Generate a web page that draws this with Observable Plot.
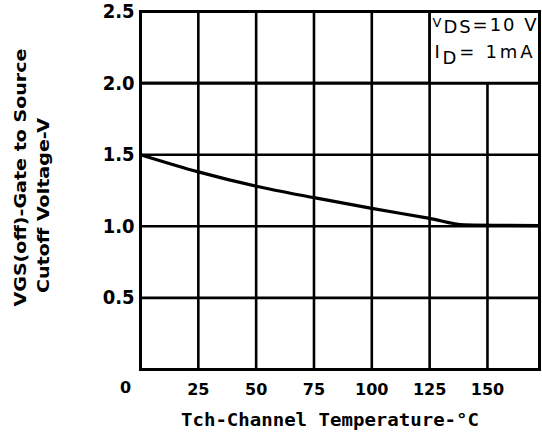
<!DOCTYPE html>
<html>
<head>
<meta charset="utf-8">
<script src="https://cdn.jsdelivr.net/npm/d3@7"></script>
<script src="https://cdn.jsdelivr.net/npm/@observablehq/plot@0.6"></script>
<style>
  html, body { margin: 0; padding: 0; background: #fff; }
  #chart svg { display: block; }
</style>
</head>
<body>
<div id="chart"></div>
<script>
// ---- data ----
const temps = [0, 25, 50, 75, 100, 125, 140, 172.5];
const vgs   = [1.5, 1.38, 1.28, 1.2, 1.125, 1.055, 1.01, 1.005];

const xTicks = [25, 50, 75, 100, 125, 150];
const xOriginLabel = ["0"];
const yTicks = [0.5, 1.0, 1.5, 2.0, 2.5];
const yTickLabels = ["0.5", "1.0", "1.5", "2.0", "2.5"];
const xDomain = [0, 172.5];
const yDomain = [0, 2.5];

const xTitle = "Tch-Channel Temperature-°C";
const yTitleLines = ["VGS(off)-Gate to Source", "Cutoff Voltage-V"];
const legendLines = ["VDS=10 V", "ID= 1mA"];
const legendBox = {x1: 125, x2: 172.5, y1: 2.0, y2: 2.5};

const curve = temps.map((t, i) => ({t, v: vgs[i]}));

const narrow = "'Liberation Sans Narrow', 'DejaVu Sans Condensed', 'DejaVu Sans', sans-serif";

const chart = Plot.plot({
  width: 542,
  height: 441,
  marginLeft: 140,
  marginRight: 3,
  marginTop: 11,
  marginBottom: 72,
  style: {background: "#fff", color: "#000"},
  x: {domain: xDomain},
  y: {domain: yDomain},
  marks: [
    // grid
    Plot.ruleY(yTicks, {y: d => d, stroke: "#000", strokeWidth: 2.6}),
    Plot.ruleX(xTicks, {x: d => d, stroke: "#000", strokeWidth: 2.6}),
    // legend box
    Plot.rect([legendBox], {x1: "x1", x2: "x2", y1: "y1", y2: "y2", fill: "#fff"}),
    Plot.ruleX([legendBox.x1], {x: d => d, y1: legendBox.y1, y2: legendBox.y2, stroke: "#000", strokeWidth: 2.6}),
    Plot.ruleY([legendBox.y1], {y: d => d, stroke: "#000", strokeWidth: 2.6}),
    Plot.frame({stroke: "#000", strokeWidth: 3}),
    // curve
    Plot.line(curve, {x: "t", y: "v", curve: "monotone-x", stroke: "#000", strokeWidth: 3.2}),
    // axes
    Plot.axisY(yTicks, {
      tickSize: 0, tickPadding: 6, tickFormat: (d, i) => yTickLabels[i],
      fontSize: 20, fontWeight: "bold", fontFamily: narrow, label: null
    }),
    Plot.axisX(xTicks, {
      tickSize: 0, tickPadding: 14, fontSize: 16, fontWeight: "bold",
      fontFamily: "'DejaVu Sans', sans-serif", label: null
    }),
    Plot.text(xOriginLabel, {
      x: () => 0, frameAnchor: "bottom", dx: -15, dy: 23, text: d => d,
      fontSize: 16, fontWeight: "bold", fontFamily: "'DejaVu Sans', sans-serif"
    }),
    // axis titles
    Plot.text([xTitle], {
      frameAnchor: "bottom", text: d => d, dx: -10, dy: 56, textAnchor: "middle",
      fontSize: 17, fontWeight: "bold", fontFamily: "'DejaVu Sans Mono', monospace",
      className: "xtitle"
    }),
    Plot.text(yTitleLines, {
      frameAnchor: "left", text: d => d, rotate: -90, textAnchor: "middle", lineAnchor: "middle",
      className: "ytitle",
      fontSize: 16, fontWeight: "bold", fontFamily: narrow
    }),
    // legend
    Plot.text(legendLines, {
      frameAnchor: "top-right", text: d => d, className: "legend",
      textAnchor: "middle", lineAnchor: "middle",
      fontSize: 18, fontFamily: "'DejaVu Sans', sans-serif"
    })
  ]
});

document.getElementById("chart").appendChild(chart);

// ---- post-layout tweaks (positions of titles / rich legend text) ----
const svg = d3.select(chart);
// y titles: two rotated lines
const yOff = [{dx: -120, dy: -13, len: 258}, {dx: -97, dy: 15, len: 175}];
svg.selectAll(".ytitle text").each(function(d, i) {
  const t = d3.select(this);
  const tr = t.attr("transform");
  t.attr("transform", `translate(${yOff[i].dx},${yOff[i].dy}) ` + tr)
   .attr("textLength", yOff[i].len).attr("lengthAdjust", "spacingAndGlyphs");
});
svg.selectAll(".xtitle text").attr("textLength", 298).attr("lengthAdjust", "spacingAndGlyphs");
// legend with subscripts
const legOff = [{dx: -55, dy: 14, len: 104}, {dx: -56, dy: 41, len: 98}];
svg.selectAll(".legend text").each(function(d, i) {
  const t = d3.select(this);
  const tr = t.attr("transform");
  t.attr("transform", `translate(${legOff[i].dx},${legOff[i].dy}) ` + tr)
   .attr("textLength", legOff[i].len).attr("lengthAdjust", "spacing");
  const s = legendLines[i];
  t.text(null);
  if (i === 0) {
    t.append("tspan").attr("font-size", 13).attr("dy", -4).text(s[0]);
    t.append("tspan").attr("dy", 6).text(s.slice(1, 3));
    t.append("tspan").attr("dy", -2).text(s.slice(3));
  } else {
    t.append("tspan").text(s[0]);
    t.append("tspan").attr("dy", 6).text(s[1]);
    t.append("tspan").attr("dy", -6).text(s.slice(2));
  }
});
</script>
</body>
</html>
